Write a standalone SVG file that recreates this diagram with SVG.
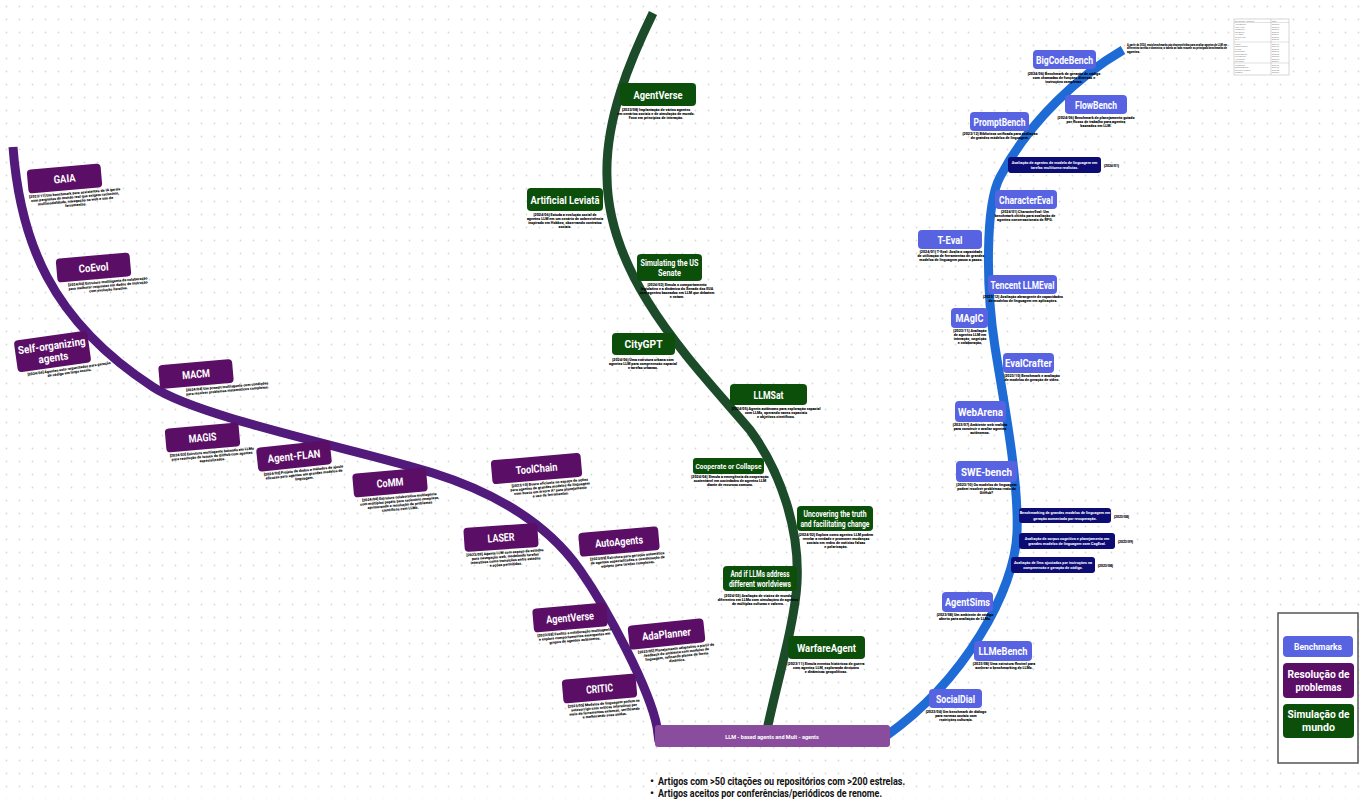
<svg xmlns="http://www.w3.org/2000/svg" width="1362" height="799" viewBox="0 0 1362 799">
<defs>
  <pattern id="dots" width="13" height="13" patternUnits="userSpaceOnUse">
    <circle cx="6.5" cy="6.5" r="0.9" fill="#d9d9d9"/>
  </pattern>
  <style>
    .np{fill:#5b0e66}
    .ng{fill:#0b4f0b}
    .nb{fill:#5863e2}
    .nn{fill:#0c0c74}
    .lbl{font-family:Roboto,"Liberation Sans",sans-serif;font-weight:700;font-size:11px;fill:#fff;text-anchor:middle}
    .l2{font-size:9px}
    .dsc{font-family:Roboto,"Liberation Sans",sans-serif;font-weight:900;font-size:3.7px;fill:#000;text-anchor:middle}
    .nt{font-family:Roboto,"Liberation Sans",sans-serif;font-weight:700;font-size:3.8px;fill:#fff;text-anchor:middle}
    .dt{font-family:Roboto,"Liberation Sans",sans-serif;font-weight:900;font-size:3.4px;fill:#000}
    .tb{font-family:"Liberation Sans",sans-serif;font-size:2px;fill:#777}
    .curve{fill:none;stroke-width:9;stroke-linecap:butt}
  </style>
</defs>

<rect width="1362" height="799" fill="#fff"/>
<rect width="1362" height="799" fill="url(#dots)"/>

<!-- branches -->
<g id="connectors">
  <path class="curve" stroke="#521a7a" d="M13,147 C20,240 50,320 153,387 C200,418 360,450 433,473 C490,491 545,520 580,570 C608,610 650,690 657,727 L659,742"/>
  <path class="curve" stroke="#1c4b2a" d="M653,13 C630,60 605,120 607,177 C608,280 695,365 750,430 C781,472 800,530 797,583 C795,625 772,700 765,740"/>
  <path class="curve" stroke="#1f6bd6" d="M1123,50 C1080,75 1030,120 1000,177 C985,205 986,290 995,347 C1004,404 1019,480 1017,533 C1015,590 965,680 886,736"/>
</g>

<!-- root -->
<g id="root">
  <rect x="655" y="725" width="235" height="22" rx="3" fill="#8a4d9e"/>
  <text class="lbl" x="772" y="738.5" style="font-size:5.5px">LLM - based agents and Mult - agents</text>
</g>

<!-- problem solving -->
<g id="n-gaia" transform="translate(64.5,178.5) rotate(-5)">
  <rect class="np" x="-37" y="-12" width="74" height="24" rx="4"/>
  <text class="lbl" y="4" textLength="22" lengthAdjust="spacingAndGlyphs">GAIA</text>
  <text class="dsc" x="9" y="16.5">[2023/11] Um benchmark para assistentes de IA gerais</text>
  <text class="dsc" x="9" y="20.5">com perguntas do mundo real que exigem raciocínio,</text>
  <text class="dsc" x="9" y="24.5">multimodalidade, navegação na web e uso de</text>
  <text class="dsc" x="9" y="28.5">ferramentas.</text>
</g>
<g id="n-coevol" transform="translate(93.5,267.5) rotate(-5)">
  <rect class="np" x="-37" y="-12" width="74" height="24" rx="4"/>
  <text class="lbl" y="4" textLength="30" lengthAdjust="spacingAndGlyphs">CoEvol</text>
  <text class="dsc" x="13" y="16.5">[2024/06] Estrutura multiagente de colaboração</text>
  <text class="dsc" x="13" y="20.5">para melhorar respostas em dados de instrução</text>
  <text class="dsc" x="13" y="24.5">com evolução iterativa.</text>
</g>
<g id="n-selforg" transform="translate(52.5,351.5) rotate(-8)">
  <rect class="np" x="-37" y="-16" width="74" height="32" rx="4"/>
  <text class="lbl" y="-2" textLength="68" lengthAdjust="spacingAndGlyphs">Self-organizing</text>
  <text class="lbl" y="10" textLength="30" lengthAdjust="spacingAndGlyphs">agents</text>
  <text class="dsc" x="14" y="20.5">[2024/04] Agentes auto-organizados para geração</text>
  <text class="dsc" x="14" y="24.5">de código em larga escala.</text>
</g>
<g id="n-macm" transform="translate(196,374) rotate(-5)">
  <rect class="np" x="-37" y="-12" width="74" height="24" rx="4"/>
  <text class="lbl" y="4" textLength="28" lengthAdjust="spacingAndGlyphs">MACM</text>
  <text class="dsc" x="30" y="16.5">[2024/04] Um prompt multiagente com condições</text>
  <text class="dsc" x="30" y="20.5">para resolver problemas matemáticos complexos.</text>
</g>
<g id="n-magis" transform="translate(202.5,437.5) rotate(-5)">
  <rect class="np" x="-37" y="-12" width="74" height="24" rx="4"/>
  <text class="lbl" y="4" textLength="28" lengthAdjust="spacingAndGlyphs">MAGIS</text>
  <text class="dsc" x="8" y="16.5">[2024/03] Estrutura multiagente baseada em LLMs</text>
  <text class="dsc" x="8" y="20.5">para resolução de issues do GitHub com agentes</text>
  <text class="dsc" x="8" y="24.5">especializados.</text>
</g>
<g id="n-agentflan" transform="translate(294,456) rotate(-6)">
  <rect class="np" x="-37" y="-12" width="74" height="24" rx="4"/>
  <text class="lbl" y="4" textLength="53" lengthAdjust="spacingAndGlyphs">Agent-FLAN</text>
  <text class="dsc" x="8" y="16.5">[2024/03] Projeto de dados e métodos de ajuste</text>
  <text class="dsc" x="8" y="20.5">eficazes para agentes em grandes modelos de</text>
  <text class="dsc" x="8" y="24.5">linguagem.</text>
</g>
<g id="n-comm" transform="translate(390,482.5) rotate(-5)">
  <rect class="np" x="-37" y="-12" width="74" height="24" rx="4"/>
  <text class="lbl" y="4" textLength="27" lengthAdjust="spacingAndGlyphs">CoMM</text>
  <text class="dsc" x="8" y="16.5">[2024/04] Estrutura colaborativa multiagente</text>
  <text class="dsc" x="8" y="20.5">com múltiplos papéis para raciocínio complexo,</text>
  <text class="dsc" x="8" y="24.5">aprimorando a resolução de problemas</text>
  <text class="dsc" x="8" y="28.5">científicos com LLMs.</text>
</g>
<g id="n-toolchain" transform="translate(536.5,468.5) rotate(-5)">
  <rect class="np" x="-45" y="-12" width="90" height="24" rx="4"/>
  <text class="lbl" y="4" textLength="42" lengthAdjust="spacingAndGlyphs">ToolChain</text>
  <text class="dsc" x="12" y="16.5">[2023/10] Busca eficiente no espaço de ações</text>
  <text class="dsc" x="12" y="20.5">para agentes de grandes modelos de linguagem</text>
  <text class="dsc" x="12" y="24.5">com busca em árvore A* para planejamento</text>
  <text class="dsc" x="12" y="28.5">e uso de ferramentas.</text>
</g>
<g id="n-laser" transform="translate(501,537.5) rotate(-4)">
  <rect class="np" x="-37" y="-12" width="74" height="24" rx="4"/>
  <text class="lbl" y="4" textLength="27" lengthAdjust="spacingAndGlyphs">LASER</text>
  <text class="dsc" x="3" y="16.5">[2023/09] Agente LLM com espaço de estados</text>
  <text class="dsc" x="3" y="20.5">para navegação web, modelando tarefas</text>
  <text class="dsc" x="3" y="24.5">interativas como transições entre estados</text>
  <text class="dsc" x="3" y="28.5">e ações permitidas.</text>
</g>
<g id="n-autoagents" transform="translate(619,541.5) rotate(-5)">
  <rect class="np" x="-40" y="-12" width="80" height="24" rx="4"/>
  <text class="lbl" y="4" textLength="48" lengthAdjust="spacingAndGlyphs">AutoAgents</text>
  <text class="dsc" x="7" y="16.5">[2023/09] Estrutura para geração automática</text>
  <text class="dsc" x="7" y="20.5">de agentes especializados e coordenação de</text>
  <text class="dsc" x="7" y="24.5">equipes para tarefas complexas.</text>
</g>
<g id="n-agentverse-p" transform="translate(570,617.5) rotate(-5)">
  <rect class="np" x="-37" y="-12" width="74" height="24" rx="4"/>
  <text class="lbl" y="4" textLength="48" lengthAdjust="spacingAndGlyphs">AgentVerse</text>
  <text class="dsc" x="3" y="16.5">[2023/08] Facilita a colaboração multiagente</text>
  <text class="dsc" x="3" y="20.5">e explora comportamentos emergentes em</text>
  <text class="dsc" x="3" y="24.5">grupos de agentes autônomos.</text>
</g>
<g id="n-adaplanner" transform="translate(666.5,634) rotate(-6)">
  <rect class="np" x="-38" y="-12" width="76" height="24" rx="4"/>
  <text class="lbl" y="4" textLength="49" lengthAdjust="spacingAndGlyphs">AdaPlanner</text>
  <text class="dsc" x="8" y="16.5">[2023/05] Planejamento adaptativo a partir de</text>
  <text class="dsc" x="8" y="20.5">feedback do ambiente com modelos de</text>
  <text class="dsc" x="8" y="24.5">linguagem, refinando planos de forma</text>
  <text class="dsc" x="8" y="28.5">dinâmica.</text>
</g>
<g id="n-critic" transform="translate(599.5,688.5) rotate(-5)">
  <rect class="np" x="-37" y="-12" width="74" height="24" rx="4"/>
  <text class="lbl" y="4" textLength="27" lengthAdjust="spacingAndGlyphs">CRITIC</text>
  <text class="dsc" x="3" y="16.5">[2023/05] Modelos de linguagem podem se</text>
  <text class="dsc" x="3" y="20.5">autocorrigir com críticas interativas por</text>
  <text class="dsc" x="3" y="24.5">meio de ferramentas externas, verificando</text>
  <text class="dsc" x="3" y="28.5">e melhorando suas saídas.</text>
</g>

<!-- world simulation -->
<g id="n-agentverse-g">
  <rect class="ng" x="620" y="83" width="76" height="23" rx="4"/>
  <text class="lbl" x="658" y="98.5" textLength="49" lengthAdjust="spacingAndGlyphs">AgentVerse</text>
  <text class="dsc" x="656" y="111">[2023/08] Implantação de vários agentes</text>
  <text class="dsc" x="656" y="115">em cenários sociais e de simulação de mundo.</text>
  <text class="dsc" x="656" y="119">Foco em princípios de interação.</text>
</g>
<g id="n-leviata">
  <rect class="ng" x="527" y="188" width="76" height="23" rx="4"/>
  <text class="lbl" x="565" y="203.5" textLength="69" lengthAdjust="spacingAndGlyphs">Artificial Leviatã</text>
  <text class="dsc" x="565" y="216">[2024/06] Estuda a evolução social de</text>
  <text class="dsc" x="565" y="220">agentes LLM em um cenário de sobrevivência</text>
  <text class="dsc" x="565" y="224">inspirado em Hobbes, observando contratos</text>
  <text class="dsc" x="565" y="228">sociais.</text>
</g>
<g id="n-senate">
  <rect class="ng" x="637" y="254" width="65" height="27" rx="4"/>
  <text class="lbl l2" x="669.5" y="265.5" textLength="58" lengthAdjust="spacingAndGlyphs">Simulating the US</text>
  <text class="lbl l2" x="669.5" y="276" textLength="23" lengthAdjust="spacingAndGlyphs">Senate</text>
  <text class="dsc" x="677" y="286">[2024/02] Simula o comportamento</text>
  <text class="dsc" x="677" y="290">legislativo e a dinâmica do Senado dos EUA</text>
  <text class="dsc" x="677" y="294">com agentes baseados em LLM que debatem</text>
  <text class="dsc" x="677" y="298">e votam.</text>
</g>
<g id="n-citygpt">
  <rect class="ng" x="612" y="333" width="63" height="22" rx="4"/>
  <text class="lbl" x="643.5" y="348" textLength="38" lengthAdjust="spacingAndGlyphs">CityGPT</text>
  <text class="dsc" x="643" y="361">[2024/06] Uma estrutura urbana com</text>
  <text class="dsc" x="643" y="365">agentes LLM para compreensão espacial</text>
  <text class="dsc" x="643" y="369">e tarefas urbanas.</text>
</g>
<g id="n-llmsat">
  <rect class="ng" x="730" y="384" width="77" height="21" rx="4"/>
  <text class="lbl" x="768.5" y="398.5" textLength="30" lengthAdjust="spacingAndGlyphs">LLMSat</text>
  <text class="dsc" x="776" y="410">[2024/05] Agente autônomo para exploração espacial</text>
  <text class="dsc" x="776" y="414">com LLMs, operando naves espaciais</text>
  <text class="dsc" x="776" y="418">e objetivos científicos.</text>
</g>
<g id="n-cooperate">
  <rect class="ng" x="693" y="458" width="71" height="16" rx="3"/>
  <text class="lbl" x="728.5" y="468.5" style="font-size:7.5px" textLength="66" lengthAdjust="spacingAndGlyphs">Cooperate or Collapse</text>
  <text class="dsc" x="730" y="478">[2024/04] Simula a emergência da cooperação</text>
  <text class="dsc" x="730" y="482">sustentável em sociedades de agentes LLM</text>
  <text class="dsc" x="730" y="486">diante de recursos comuns.</text>
</g>
<g id="n-uncovering">
  <rect class="ng" x="797" y="506" width="76" height="25" rx="4"/>
  <text class="lbl" x="835" y="516.5" style="font-size:8.5px" textLength="63" lengthAdjust="spacingAndGlyphs">Uncovering the truth</text>
  <text class="lbl" x="835" y="526.5" style="font-size:8.5px" textLength="69" lengthAdjust="spacingAndGlyphs">and facilitating change</text>
  <text class="dsc" x="836" y="536">[2024/02] Explora como agentes LLM podem</text>
  <text class="dsc" x="836" y="540">revelar a verdade e promover mudanças</text>
  <text class="dsc" x="836" y="544">sociais em redes de notícias falsas</text>
  <text class="dsc" x="836" y="548">e polarização.</text>
</g>
<g id="n-worldviews">
  <rect class="ng" x="723" y="566" width="74" height="25" rx="4"/>
  <text class="lbl" x="760" y="576.5" style="font-size:8.5px" textLength="59" lengthAdjust="spacingAndGlyphs">And if LLMs address</text>
  <text class="lbl" x="760" y="586.5" style="font-size:8.5px" textLength="62" lengthAdjust="spacingAndGlyphs">different worldviews</text>
  <text class="dsc" x="758" y="597">[2024/02] Avaliação de visões de mundo</text>
  <text class="dsc" x="758" y="601">diferentes em LLMs com simulações de agentes</text>
  <text class="dsc" x="758" y="605">de múltiplas culturas e valores.</text>
</g>
<g id="n-warfare">
  <rect class="ng" x="788" y="636" width="77" height="23" rx="4"/>
  <text class="lbl" x="826.5" y="651.5" textLength="59" lengthAdjust="spacingAndGlyphs">WarfareAgent</text>
  <text class="dsc" x="826" y="665">[2023/11] Simula eventos históricos de guerra</text>
  <text class="dsc" x="826" y="669">com agentes LLM, explorando decisões</text>
  <text class="dsc" x="826" y="673">e dinâmicas geopolíticas.</text>
</g>

<!-- benchmarks -->
<g id="n-bigcodebench">
  <rect class="nb" x="1033" y="50" width="63" height="19" rx="4"/>
  <text class="lbl" x="1064.5" y="63.5" textLength="57" lengthAdjust="spacingAndGlyphs">BigCodeBench</text>
  <text class="dsc" x="1064" y="75">[2024/06] Benchmark de geração de código</text>
  <text class="dsc" x="1064" y="79">com chamadas de funções diversas e</text>
  <text class="dsc" x="1064" y="83">instruções complexas.</text>
</g>
<g id="n-flowbench">
  <rect class="nb" x="1065" y="95" width="62" height="19" rx="4"/>
  <text class="lbl" x="1096" y="108.5" textLength="42" lengthAdjust="spacingAndGlyphs">FlowBench</text>
  <text class="dsc" x="1096" y="119">[2024/06] Benchmark de planejamento guiado</text>
  <text class="dsc" x="1096" y="123">por fluxos de trabalho para agentes</text>
  <text class="dsc" x="1096" y="127">baseados em LLM.</text>
</g>
<g id="n-promptbench">
  <rect class="nb" x="970" y="112" width="59" height="19" rx="4"/>
  <text class="lbl" x="999.5" y="125.5" textLength="52" lengthAdjust="spacingAndGlyphs">PromptBench</text>
  <text class="dsc" x="1000" y="135">[2023/12] Biblioteca unificada para avaliação</text>
  <text class="dsc" x="1000" y="139">de grandes modelos de linguagem.</text>
</g>
<g id="n-multiturn">
  <rect class="nn" x="1008" y="157" width="93" height="16" rx="3"/>
  <text class="nt" x="1054.5" y="163.5">Avaliação de agentes de modelo de linguagem em</text>
  <text class="nt" x="1054.5" y="169">tarefas multiturno realistas.</text>
  <text class="dt" x="1104" y="166.5">[2024/01]</text>
</g>
<g id="n-charactereval">
  <rect class="nb" x="995" y="190" width="62" height="19" rx="4"/>
  <text class="lbl" x="1026" y="203.5" textLength="54" lengthAdjust="spacingAndGlyphs">CharacterEval</text>
  <text class="dsc" x="1025" y="213">[2024/01] CharacterEval: Um</text>
  <text class="dsc" x="1025" y="217">benchmark chinês para avaliação de</text>
  <text class="dsc" x="1025" y="221">agentes conversacionais de RPG.</text>
</g>
<g id="n-teval">
  <rect class="nb" x="918" y="230" width="64" height="19" rx="4"/>
  <text class="lbl" x="950" y="243.5" textLength="25" lengthAdjust="spacingAndGlyphs">T-Eval</text>
  <text class="dsc" x="951" y="253">[2024/01] T-Eval: Avalia a capacidade</text>
  <text class="dsc" x="951" y="257">de utilização de ferramentas de grandes</text>
  <text class="dsc" x="951" y="261">modelos de linguagem passo a passo.</text>
</g>
<g id="n-tencent">
  <rect class="nb" x="988" y="275" width="69" height="19" rx="4"/>
  <text class="lbl" x="1022.5" y="288.5" textLength="64" lengthAdjust="spacingAndGlyphs">Tencent LLMEval</text>
  <text class="dsc" x="1023" y="298">[2023/12] Avaliação abrangente de capacidades</text>
  <text class="dsc" x="1023" y="302">de modelos de linguagem em aplicações.</text>
</g>
<g id="n-magic">
  <rect class="nb" x="951" y="308" width="37" height="20" rx="4"/>
  <text class="lbl" x="969.5" y="322" textLength="28" lengthAdjust="spacingAndGlyphs">MAgIC</text>
  <text class="dsc" x="970" y="332">[2023/11] Avaliação</text>
  <text class="dsc" x="970" y="336">de agentes LLM em</text>
  <text class="dsc" x="970" y="340">interação, cognição</text>
  <text class="dsc" x="970" y="344">e colaboração.</text>
</g>
<g id="n-evalcrafter">
  <rect class="nb" x="1003" y="353" width="51" height="20" rx="4"/>
  <text class="lbl" x="1028.5" y="367" textLength="47" lengthAdjust="spacingAndGlyphs">EvalCrafter</text>
  <text class="dsc" x="1032" y="377">[2023/10] Benchmark e avaliação</text>
  <text class="dsc" x="1032" y="381">de modelos de geração de vídeo.</text>
</g>
<g id="n-webarena">
  <rect class="nb" x="955" y="401" width="51" height="21" rx="4"/>
  <text class="lbl" x="980.5" y="415.5" textLength="45" lengthAdjust="spacingAndGlyphs">WebArena</text>
  <text class="dsc" x="980" y="426">[2023/07] Ambiente web realista</text>
  <text class="dsc" x="980" y="430">para construir e avaliar agentes</text>
  <text class="dsc" x="980" y="434">autônomos.</text>
</g>
<g id="n-swebench">
  <rect class="nb" x="956" y="461" width="61" height="21" rx="4"/>
  <text class="lbl" x="986.5" y="475.5" textLength="51" lengthAdjust="spacingAndGlyphs">SWE-bench</text>
  <text class="dsc" x="986.5" y="486">[2023/10] Os modelos de linguagem</text>
  <text class="dsc" x="986.5" y="490">podem resolver problemas reais do</text>
  <text class="dsc" x="986.5" y="494">GitHub?</text>
</g>
<g id="n-rag">
  <rect class="nn" x="1019" y="508" width="92" height="15" rx="3"/>
  <text class="nt" x="1065" y="514">Benchmarking de grandes modelos de linguagem em</text>
  <text class="nt" x="1065" y="519.5">geração aumentada por recuperação.</text>
  <text class="dt" x="1114" y="517.5">[2023/08]</text>
</g>
<g id="n-cogeval">
  <rect class="nn" x="1019" y="533" width="96" height="16" rx="3"/>
  <text class="nt" x="1067" y="539.5">Avaliação de corpus cognitivo e planejamento em</text>
  <text class="nt" x="1067" y="545">grandes modelos de linguagem com CogEval.</text>
  <text class="dt" x="1118" y="542.5">[2023/09]</text>
</g>
<g id="n-code">
  <rect class="nn" x="1011" y="557" width="84" height="16" rx="3"/>
  <text class="nt" x="1053" y="563.5">Avaliação de llms ajustados por instruções na</text>
  <text class="nt" x="1053" y="569">compreensão e geração de código.</text>
  <text class="dt" x="1098" y="566.5">[2023/08]</text>
</g>
<g id="n-agentsims">
  <rect class="nb" x="942" y="592" width="51" height="20" rx="4"/>
  <text class="lbl" x="967.5" y="606" textLength="45" lengthAdjust="spacingAndGlyphs">AgentSims</text>
  <text class="dsc" x="965" y="616">[2023/08] Um ambiente de código</text>
  <text class="dsc" x="965" y="620">aberto para avaliação de LLMs.</text>
</g>
<g id="n-llmebench">
  <rect class="nb" x="974" y="641" width="58" height="20" rx="4"/>
  <text class="lbl" x="1003" y="655" textLength="49" lengthAdjust="spacingAndGlyphs">LLMeBench</text>
  <text class="dsc" x="1004" y="665">[2023/08] Uma estrutura flexível para</text>
  <text class="dsc" x="1004" y="669">acelerar o benchmarking de LLMs.</text>
</g>
<g id="n-socialdial">
  <rect class="nb" x="929" y="689" width="53" height="19" rx="4"/>
  <text class="lbl" x="955.5" y="702.5" textLength="39" lengthAdjust="spacingAndGlyphs">SocialDial</text>
  <text class="dsc" x="956" y="713">[2023/04] Um benchmark de diálogo</text>
  <text class="dsc" x="956" y="717">para normas sociais com</text>
  <text class="dsc" x="956" y="721">restrições culturais.</text>
</g>

<!-- note and overview table, top right -->
<g id="note">
  <text class="dt" x="1127" y="45.5" textLength="100" lengthAdjust="spacingAndGlyphs">A partir de 2024, mais benchmarks são desenvolvidos para avaliar agentes de LLM em</text>
  <text class="dt" x="1127" y="49" textLength="100" lengthAdjust="spacingAndGlyphs">diferentes tarefas e domínios; a tabela ao lado resume os principais benchmarks de</text>
  <text class="dt" x="1127" y="52.5">agentes.</text>
</g>
<g id="table">
  <rect x="1234" y="19" width="55" height="56" fill="#fff" stroke="#999" stroke-width="0.4"/>
  <line x1="1271" y1="19" x2="1271" y2="75" stroke="#999" stroke-width="0.4"/>
  <line x1="1234" y1="22.5" x2="1289" y2="22.5" stroke="#999" stroke-width="0.3"/>
  <line x1="1234" y1="42" x2="1289" y2="42" stroke="#999" stroke-width="0.3"/>
  <line x1="1234" y1="63" x2="1289" y2="63" stroke="#999" stroke-width="0.3"/>
  <text class="tb" x="1235" y="21.5">Benchmark / Domínio</text><text class="tb" x="1272" y="21.5">Data</text>
  <text class="tb" x="1235" y="25">AgentBench</text><text class="tb" x="1272" y="25">2023/08</text>
  <text class="tb" x="1235" y="27.5">WebArena</text><text class="tb" x="1272" y="27.5">2023/07</text>
  <text class="tb" x="1235" y="30">Mind2Web</text><text class="tb" x="1272" y="30">2023/06</text>
  <text class="tb" x="1235" y="32.5">ToolBench</text><text class="tb" x="1272" y="32.5">2023/07</text>
  <text class="tb" x="1235" y="35">API-Bank</text><text class="tb" x="1272" y="35">2023/04</text>
  <text class="tb" x="1235" y="37.5">SWE-bench</text><text class="tb" x="1272" y="37.5">2023/10</text>
  <text class="tb" x="1235" y="40">GAIA</text><text class="tb" x="1272" y="40">2023/11</text>
  <text class="tb" x="1235" y="44.5">T-Eval</text><text class="tb" x="1272" y="44.5">2024/01</text>
  <text class="tb" x="1235" y="47">CharacterEval</text><text class="tb" x="1272" y="47">2024/01</text>
  <text class="tb" x="1235" y="49.5">MAgIC</text><text class="tb" x="1272" y="49.5">2023/11</text>
  <text class="tb" x="1235" y="52">EvalCrafter</text><text class="tb" x="1272" y="52">2023/10</text>
  <text class="tb" x="1235" y="54.5">PromptBench</text><text class="tb" x="1272" y="54.5">2023/12</text>
  <text class="tb" x="1235" y="57">LLMeBench</text><text class="tb" x="1272" y="57">2023/08</text>
  <text class="tb" x="1235" y="59.5">AgentSims</text><text class="tb" x="1272" y="59.5">2023/08</text>
  <text class="tb" x="1235" y="62">SocialDial</text><text class="tb" x="1272" y="62">2023/04</text>
  <text class="tb" x="1235" y="65.5">FlowBench</text><text class="tb" x="1272" y="65.5">2024/06</text>
  <text class="tb" x="1235" y="68">BigCodeBench</text><text class="tb" x="1272" y="68">2024/06</text>
  <text class="tb" x="1235" y="70.5">Tencent LLMEval</text><text class="tb" x="1272" y="70.5">2023/12</text>
  <text class="tb" x="1235" y="73">CogEval</text><text class="tb" x="1272" y="73">2023/09</text>
</g>

<!-- legend -->
<g id="legend">
  <rect x="1278" y="613" width="80" height="150" fill="#fff" stroke="#555" stroke-width="1.5"/>
  <rect class="nb" x="1283" y="636" width="70" height="21" rx="4"/>
  <text class="lbl" x="1318" y="650" style="font-size:9px" textLength="48" lengthAdjust="spacingAndGlyphs">Benchmarks</text>
  <rect class="np" x="1283" y="663" width="71" height="35" rx="4"/>
  <text class="lbl" x="1318.5" y="677.5" style="font-size:10px" textLength="62" lengthAdjust="spacingAndGlyphs">Resolução de</text>
  <text class="lbl" x="1318.5" y="690.5" style="font-size:10px" textLength="46" lengthAdjust="spacingAndGlyphs">problemas</text>
  <rect class="ng" x="1283" y="704" width="71" height="34" rx="4"/>
  <text class="lbl" x="1318.5" y="718" style="font-size:10px" textLength="62" lengthAdjust="spacingAndGlyphs">Simulação de</text>
  <text class="lbl" x="1318.5" y="731" style="font-size:10px" textLength="33" lengthAdjust="spacingAndGlyphs">mundo</text>
</g>

<!-- selection criteria -->
<g id="criteria" font-family="Roboto, 'Liberation Sans', sans-serif" font-weight="700" font-size="11" fill="#111">
  <text x="650" y="785">•</text>
  <text x="658" y="785" textLength="247" lengthAdjust="spacingAndGlyphs">Artigos com &gt;50 citações ou repositórios com &gt;200 estrelas.</text>
  <text x="650" y="797">•</text>
  <text x="658" y="797" textLength="224" lengthAdjust="spacingAndGlyphs">Artigos aceitos por conferências/periódicos de renome.</text>
</g>
</svg>
